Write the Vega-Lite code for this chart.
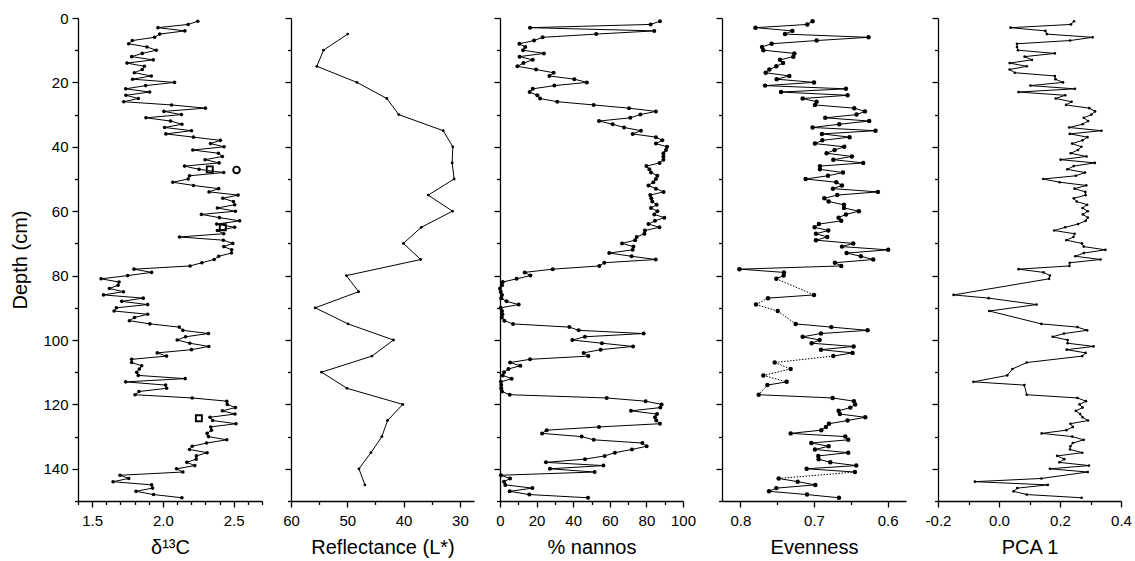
{
"$schema": "https://vega.github.io/schema/vega-lite/v6.json",
"background": "white",
"padding": {"left": 10, "top": 11, "right": 5, "bottom": 5},
"spacing": 19,
"config": {
  "view": {"stroke": null},
  "font": "Liberation Sans",
  "axis": {"grid": false, "domainColor": "black", "domainWidth": 1.3, "tickColor": "black", "tickWidth": 1.3, "labelColor": "black", "labelFontSize": 15, "labelFlush": false, "labelOverlap": false, "titleColor": "black", "titleFontSize": 20, "titleFontWeight": "normal"},
  "axisX": {"labelPadding": 6, "titlePadding": 9},
  "axisY": {"labelPadding": 4, "titlePadding": 12}
},
"datasets": {
"d13c": [{"d":1,"v":2.246},{"d":2,"v":2.178},{"d":3,"v":1.965},{"d":4,"v":2.155},{"d":5,"v":1.977},{"d":6,"v":1.941},{"d":7,"v":1.784},{"d":8,"v":1.758},{"d":9,"v":1.887},{"d":10,"v":1.953},{"d":11,"v":1.854},{"d":12,"v":1.779},{"d":13,"v":1.932},{"d":14,"v":1.746},{"d":15,"v":1.869},{"d":16,"v":1.854},{"d":17,"v":1.798},{"d":18,"v":1.918},{"d":19,"v":1.786},{"d":20,"v":2.082},{"d":21,"v":1.878},{"d":22,"v":1.737},{"d":23,"v":1.906},{"d":24,"v":1.739},{"d":25,"v":1.826},{"d":26,"v":1.723},{"d":27,"v":2.061},{"d":28,"v":2.3},{"d":29,"v":2.007},{"d":30,"v":2.131},{"d":31,"v":1.88},{"d":32,"v":2.054},{"d":33,"v":2.134},{"d":34,"v":2.012},{"d":35,"v":2.202},{"d":36,"v":2.021},{"d":37,"v":2.216},{"d":38,"v":2.406},{"d":39,"v":2.336},{"d":40,"v":2.432},{"d":41,"v":2.211},{"d":42,"v":2.392},{"d":43,"v":2.42},{"d":44,"v":2.298},{"d":45,"v":2.397},{"d":46,"v":2.153},{"d":47,"v":2.256},{"d":48,"v":2.43},{"d":49,"v":2.188},{"d":50,"v":2.178},{"d":51,"v":2.07},{"d":52,"v":2.216},{"d":53,"v":2.394},{"d":54,"v":2.326},{"d":55,"v":2.531},{"d":56,"v":2.423},{"d":57,"v":2.498},{"d":58,"v":2.507},{"d":59,"v":2.385},{"d":60,"v":2.512},{"d":61,"v":2.272},{"d":62,"v":2.399},{"d":63,"v":2.542},{"d":64,"v":2.38},{"d":65,"v":2.507},{"d":66,"v":2.385},{"d":67,"v":2.43},{"d":68,"v":2.117},{"d":69,"v":2.427},{"d":70,"v":2.493},{"d":71,"v":2.43},{"d":72,"v":2.486},{"d":73,"v":2.484},{"d":74,"v":2.394},{"d":75,"v":2.362},{"d":76,"v":2.275},{"d":77,"v":2.192},{"d":78,"v":1.796},{"d":79,"v":1.92},{"d":80,"v":1.751},{"d":81,"v":1.563},{"d":82,"v":1.69},{"d":83,"v":1.683},{"d":84,"v":1.622},{"d":85,"v":1.721},{"d":86,"v":1.58},{"d":87,"v":1.861},{"d":88,"v":1.709},{"d":89,"v":1.892},{"d":90,"v":1.671},{"d":91,"v":1.655},{"d":92,"v":1.892},{"d":93,"v":1.8},{"d":94,"v":1.763},{"d":95,"v":1.908},{"d":96,"v":2.115},{"d":97,"v":2.141},{"d":98,"v":2.322},{"d":99,"v":2.16},{"d":100,"v":2.101},{"d":101,"v":2.19},{"d":102,"v":2.324},{"d":103,"v":2.202},{"d":104,"v":1.96},{"d":105,"v":2.026},{"d":106,"v":1.779},{"d":107,"v":1.779},{"d":108,"v":1.85},{"d":109,"v":1.833},{"d":110,"v":1.815},{"d":111,"v":1.826},{"d":112,"v":2.157},{"d":113,"v":1.737},{"d":114,"v":2.019},{"d":115,"v":2.026},{"d":116,"v":1.831},{"d":117,"v":1.803},{"d":118,"v":2.207},{"d":119,"v":2.451},{"d":120,"v":2.455},{"d":121,"v":2.512},{"d":122,"v":2.42},{"d":123,"v":2.509},{"d":124,"v":2.333},{"d":125,"v":2.352},{"d":126,"v":2.516},{"d":127,"v":2.338},{"d":128,"v":2.343},{"d":129,"v":2.312},{"d":130,"v":2.322},{"d":131,"v":2.451},{"d":132,"v":2.308},{"d":133,"v":2.207},{"d":134,"v":2.188},{"d":135,"v":2.312},{"d":136,"v":2.237},{"d":137,"v":2.235},{"d":138,"v":2.169},{"d":139,"v":2.225},{"d":140,"v":2.096},{"d":141,"v":2.141},{"d":142,"v":1.697},{"d":143,"v":1.758},{"d":144,"v":1.648},{"d":145,"v":1.92},{"d":146,"v":1.927},{"d":147,"v":1.81},{"d":148,"v":1.934},{"d":149,"v":2.134}],
"markers": [{"d":47,"v":2.331,"s":"square"},{"d":65,"v":2.423,"s":"square"},{"d":124.3,"v":2.254,"s":"square"},{"d":47.2,"v":2.52,"s":"circle"}],
"refl": [{"d":5,"v":49.93},{"d":10,"v":54.23},{"d":15,"v":55.41},{"d":20,"v":48.28},{"d":25,"v":42.98},{"d":30,"v":40.86},{"d":35,"v":32.97},{"d":40,"v":31.26},{"d":45,"v":31.38},{"d":50,"v":31.03},{"d":55,"v":35.62},{"d":60,"v":31.32},{"d":65,"v":36.86},{"d":70,"v":40.04},{"d":75,"v":36.97},{"d":80,"v":50.16},{"d":85,"v":47.99},{"d":90,"v":55.7},{"d":95,"v":49.87},{"d":100,"v":41.8},{"d":105,"v":45.63},{"d":110,"v":54.58},{"d":115,"v":50.05},{"d":120,"v":40.15},{"d":125,"v":42.86},{"d":130,"v":43.86},{"d":135,"v":45.81},{"d":140,"v":47.93},{"d":145,"v":46.87}],
"nannos": [{"d":1,"v":87.4},{"d":2,"v":82.3},{"d":3,"v":16.4},{"d":4,"v":84.3},{"d":5,"v":52.6},{"d":6,"v":23.3},{"d":7,"v":18.6},{"d":8,"v":10.6},{"d":9,"v":13.8},{"d":10,"v":12.6},{"d":11,"v":24},{"d":12,"v":10.7},{"d":13,"v":17.9},{"d":14,"v":12.8},{"d":15,"v":9.5},{"d":16,"v":19.7},{"d":17,"v":29.3},{"d":18,"v":27},{"d":19,"v":40.6},{"d":20,"v":47.5},{"d":21,"v":29.7},{"d":22,"v":17.9},{"d":23,"v":16.2},{"d":24,"v":20.4},{"d":25,"v":21.9},{"d":26,"v":31.3},{"d":27,"v":51.2},{"d":28,"v":70.5},{"d":29,"v":85.2},{"d":30,"v":76.7},{"d":31,"v":71.2},{"d":32,"v":54.1},{"d":33,"v":61.6},{"d":34,"v":67.8},{"d":35,"v":77},{"d":36,"v":72.5},{"d":37,"v":85.2},{"d":38,"v":88.7},{"d":39,"v":85.2},{"d":40,"v":91.3},{"d":41,"v":90.7},{"d":42,"v":89.3},{"d":43,"v":89.3},{"d":44,"v":89.3},{"d":45,"v":87.2},{"d":46,"v":80},{"d":47,"v":81.6},{"d":48,"v":82.5},{"d":49,"v":86},{"d":50,"v":85.2},{"d":51,"v":83.8},{"d":52,"v":81.1},{"d":53,"v":85.2},{"d":54,"v":89.4},{"d":55,"v":82.1},{"d":56,"v":82.7},{"d":57,"v":83.2},{"d":58,"v":85.6},{"d":59,"v":82.5},{"d":60,"v":86},{"d":61,"v":84.3},{"d":62,"v":89.8},{"d":63,"v":84.7},{"d":64,"v":81.1},{"d":65,"v":87.1},{"d":66,"v":79.2},{"d":67,"v":78.9},{"d":68,"v":74.7},{"d":69,"v":73.8},{"d":70,"v":66.7},{"d":71,"v":72.9},{"d":72,"v":72.5},{"d":73,"v":59.7},{"d":74,"v":71.9},{"d":75,"v":85.1},{"d":76,"v":57},{"d":77,"v":54.3},{"d":78,"v":28.8},{"d":79,"v":13.5},{"d":80,"v":16.6},{"d":81,"v":9.1},{"d":82,"v":1.5},{"d":83,"v":1.1},{"d":84,"v":0},{"d":85,"v":0.4},{"d":86,"v":1.1},{"d":87,"v":0.7},{"d":88,"v":3.6},{"d":89,"v":10.2},{"d":90,"v":0.4},{"d":91,"v":1.1},{"d":92,"v":1.3},{"d":93,"v":1},{"d":94,"v":2.4},{"d":95,"v":7.1},{"d":96,"v":37.9},{"d":97,"v":43},{"d":98,"v":78.5},{"d":99,"v":46.4},{"d":100,"v":39.5},{"d":101,"v":55.7},{"d":102,"v":72.7},{"d":103,"v":55},{"d":104,"v":45.7},{"d":105,"v":48.3},{"d":106,"v":16.4},{"d":107,"v":5.5},{"d":108,"v":11.1},{"d":109,"v":4.6},{"d":110,"v":2.2},{"d":111,"v":1.5},{"d":112,"v":6.4},{"d":113,"v":0.5},{"d":114,"v":0.7},{"d":115,"v":0.7},{"d":116,"v":1.1},{"d":117,"v":5.3},{"d":118,"v":58.3},{"d":119,"v":79.6},{"d":120,"v":88.3},{"d":121,"v":87.6},{"d":122,"v":71.6},{"d":123,"v":85.8},{"d":124,"v":84.7},{"d":125,"v":85.4},{"d":126,"v":87.4},{"d":127,"v":54.1},{"d":128,"v":25.5},{"d":129,"v":23},{"d":130,"v":44.6},{"d":131,"v":51.2},{"d":132,"v":77.8},{"d":133,"v":80.1},{"d":134,"v":72.1},{"d":135,"v":62.8},{"d":136,"v":57.2},{"d":137,"v":46.4},{"d":138,"v":25.1},{"d":139,"v":56.5},{"d":140,"v":27.3},{"d":141,"v":51.7},{"d":142,"v":0.5},{"d":143,"v":5.5},{"d":144,"v":2.2},{"d":145,"v":2.9},{"d":146,"v":17.7},{"d":147,"v":5.3},{"d":148,"v":16},{"d":149,"v":48.1}],
"even": [{"d":1,"v":0.7019,"dot":false},{"d":2,"v":0.7091,"dot":false},{"d":3,"v":0.7796,"dot":false},{"d":4,"v":0.7294,"dot":false},{"d":5,"v":0.7394,"dot":false},{"d":6,"v":0.6259,"dot":false},{"d":7,"v":0.6964,"dot":false},{"d":8,"v":0.7575,"dot":false},{"d":9,"v":0.7706,"dot":false},{"d":10,"v":0.7688,"dot":false},{"d":11,"v":0.7267,"dot":false},{"d":12,"v":0.7281,"dot":false},{"d":13,"v":0.7462,"dot":false},{"d":14,"v":0.7421,"dot":false},{"d":15,"v":0.7512,"dot":false},{"d":16,"v":0.7607,"dot":false},{"d":17,"v":0.7656,"dot":false},{"d":18,"v":0.7335,"dot":false},{"d":19,"v":0.7507,"dot":false},{"d":20,"v":0.7,"dot":false},{"d":21,"v":0.7665,"dot":false},{"d":22,"v":0.6566,"dot":false},{"d":23,"v":0.7448,"dot":false},{"d":24,"v":0.6544,"dot":false},{"d":25,"v":0.7154,"dot":false},{"d":26,"v":0.6964,"dot":false},{"d":27,"v":0.6987,"dot":false},{"d":28,"v":0.6453,"dot":false},{"d":29,"v":0.6308,"dot":false},{"d":30,"v":0.6422,"dot":false},{"d":31,"v":0.6847,"dot":false},{"d":32,"v":0.625,"dot":false},{"d":33,"v":0.6657,"dot":false},{"d":34,"v":0.7019,"dot":false},{"d":35,"v":0.6164,"dot":false},{"d":36,"v":0.6892,"dot":false},{"d":37,"v":0.6517,"dot":false},{"d":38,"v":0.6887,"dot":false},{"d":39,"v":0.6987,"dot":false},{"d":40,"v":0.6589,"dot":false},{"d":41,"v":0.672,"dot":false},{"d":42,"v":0.6829,"dot":false},{"d":43,"v":0.6485,"dot":false},{"d":44,"v":0.6738,"dot":false},{"d":45,"v":0.6331,"dot":false},{"d":46,"v":0.6919,"dot":false},{"d":47,"v":0.6919,"dot":false},{"d":48,"v":0.6607,"dot":false},{"d":49,"v":0.681,"dot":false},{"d":50,"v":0.7114,"dot":false},{"d":51,"v":0.6697,"dot":false},{"d":52,"v":0.662,"dot":false},{"d":53,"v":0.6743,"dot":false},{"d":54,"v":0.6132,"dot":false},{"d":55,"v":0.6684,"dot":false},{"d":56,"v":0.686,"dot":false},{"d":57,"v":0.6801,"dot":false},{"d":58,"v":0.6593,"dot":false},{"d":59,"v":0.6593,"dot":false},{"d":60,"v":0.639,"dot":false},{"d":61,"v":0.6566,"dot":false},{"d":62,"v":0.6666,"dot":false},{"d":63,"v":0.663,"dot":false},{"d":64,"v":0.6933,"dot":false},{"d":65,"v":0.6991,"dot":false},{"d":66,"v":0.6806,"dot":false},{"d":67,"v":0.6973,"dot":false},{"d":68,"v":0.682,"dot":false},{"d":69,"v":0.6973,"dot":false},{"d":70,"v":0.6467,"dot":false},{"d":71,"v":0.662,"dot":false},{"d":72,"v":0.5992,"dot":false},{"d":73,"v":0.6557,"dot":false},{"d":74,"v":0.6363,"dot":false},{"d":75,"v":0.6195,"dot":false},{"d":76,"v":0.6716,"dot":false},{"d":77,"v":0.663,"dot":false},{"d":78,"v":0.8014,"dot":false},{"d":79,"v":0.7408,"dot":false},{"d":80,"v":0.7412,"dot":false},{"d":81,"v":0.7512,"dot":true},{"d":86,"v":0.7,"dot":false},{"d":87,"v":0.7625,"dot":true},{"d":89,"v":0.7787,"dot":true},{"d":91,"v":0.7493,"dot":true},{"d":95,"v":0.7249,"dot":false},{"d":96,"v":0.6765,"dot":false},{"d":97,"v":0.6272,"dot":false},{"d":98,"v":0.6905,"dot":false},{"d":99,"v":0.7154,"dot":false},{"d":100,"v":0.6924,"dot":false},{"d":101,"v":0.7032,"dot":false},{"d":102,"v":0.6462,"dot":false},{"d":103,"v":0.6905,"dot":false},{"d":104,"v":0.6476,"dot":false},{"d":105,"v":0.6738,"dot":true},{"d":107,"v":0.7534,"dot":true},{"d":109,"v":0.7317,"dot":true},{"d":111,"v":0.7688,"dot":true},{"d":113,"v":0.7371,"dot":false},{"d":114,"v":0.7634,"dot":true},{"d":117,"v":0.7751,"dot":false},{"d":118,"v":0.6747,"dot":false},{"d":119,"v":0.6458,"dot":false},{"d":120,"v":0.644,"dot":false},{"d":121,"v":0.6507,"dot":false},{"d":122,"v":0.6666,"dot":false},{"d":123,"v":0.6648,"dot":false},{"d":124,"v":0.6304,"dot":false},{"d":125,"v":0.6544,"dot":false},{"d":126,"v":0.6797,"dot":false},{"d":127,"v":0.6838,"dot":false},{"d":128,"v":0.6901,"dot":false},{"d":129,"v":0.7317,"dot":false},{"d":130,"v":0.6575,"dot":false},{"d":131,"v":0.6535,"dot":false},{"d":132,"v":0.7037,"dot":false},{"d":133,"v":0.6801,"dot":false},{"d":134,"v":0.6987,"dot":false},{"d":135,"v":0.6535,"dot":false},{"d":136,"v":0.6942,"dot":false},{"d":137,"v":0.6937,"dot":false},{"d":138,"v":0.6779,"dot":false},{"d":139,"v":0.6426,"dot":false},{"d":140,"v":0.71,"dot":false},{"d":141,"v":0.6444,"dot":true},{"d":143,"v":0.748,"dot":false},{"d":144,"v":0.7222,"dot":false},{"d":145,"v":0.6982,"dot":false},{"d":146,"v":0.7512,"dot":false},{"d":147,"v":0.7611,"dot":false},{"d":148,"v":0.7095,"dot":false},{"d":149,"v":0.6661,"dot":false}],
"pca": [{"d":1,"v":0.246},{"d":2,"v":0.236},{"d":3,"v":0.038},{"d":4,"v":0.152},{"d":5,"v":0.157},{"d":6,"v":0.307},{"d":7,"v":0.233},{"d":8,"v":0.059},{"d":9,"v":0.059},{"d":10,"v":0.062},{"d":11,"v":0.183},{"d":12,"v":0.084},{"d":13,"v":0.108},{"d":14,"v":0.035},{"d":15,"v":0.091},{"d":16,"v":0.035},{"d":17,"v":0.052},{"d":18,"v":0.183},{"d":19,"v":0.185},{"d":20,"v":0.21},{"d":21,"v":0.103},{"d":22,"v":0.249},{"d":23,"v":0.064},{"d":24,"v":0.217},{"d":25,"v":0.186},{"d":26,"v":0.238},{"d":27,"v":0.22},{"d":28,"v":0.296},{"d":29,"v":0.315},{"d":30,"v":0.303},{"d":31,"v":0.278},{"d":32,"v":0.292},{"d":33,"v":0.274},{"d":34,"v":0.23},{"d":35,"v":0.336},{"d":36,"v":0.232},{"d":37,"v":0.29},{"d":38,"v":0.274},{"d":39,"v":0.24},{"d":40,"v":0.27},{"d":41,"v":0.259},{"d":42,"v":0.235},{"d":43,"v":0.287},{"d":44,"v":0.202},{"d":45,"v":0.314},{"d":46,"v":0.245},{"d":47,"v":0.224},{"d":48,"v":0.282},{"d":49,"v":0.252},{"d":50,"v":0.145},{"d":51,"v":0.199},{"d":52,"v":0.286},{"d":53,"v":0.248},{"d":54,"v":0.283},{"d":55,"v":0.284},{"d":56,"v":0.245},{"d":57,"v":0.255},{"d":58,"v":0.289},{"d":59,"v":0.274},{"d":60,"v":0.291},{"d":61,"v":0.275},{"d":62,"v":0.291},{"d":63,"v":0.284},{"d":64,"v":0.259},{"d":65,"v":0.217},{"d":66,"v":0.181},{"d":67,"v":0.248},{"d":68,"v":0.244},{"d":69,"v":0.221},{"d":70,"v":0.272},{"d":71,"v":0.278},{"d":72,"v":0.349},{"d":73,"v":0.278},{"d":74,"v":0.25},{"d":75,"v":0.333},{"d":76,"v":0.232},{"d":77,"v":0.231},{"d":78,"v":0.064},{"d":79,"v":0.146},{"d":80,"v":0.167},{"d":81,"v":0.164},{"d":86,"v":-0.149},{"d":87,"v":-0.034},{"d":89,"v":0.123},{"d":91,"v":-0.032},{"d":95,"v":0.139},{"d":96,"v":0.257},{"d":97,"v":0.289},{"d":98,"v":0.213},{"d":99,"v":0.176},{"d":100,"v":0.225},{"d":101,"v":0.225},{"d":102,"v":0.31},{"d":103,"v":0.222},{"d":104,"v":0.284},{"d":105,"v":0.273},{"d":107,"v":0.091},{"d":109,"v":0.044},{"d":111,"v":0.027},{"d":113,"v":-0.084},{"d":114,"v":0.083},{"d":117,"v":0.091},{"d":118,"v":0.257},{"d":119,"v":0.285},{"d":120,"v":0.264},{"d":121,"v":0.274},{"d":122,"v":0.252},{"d":123,"v":0.266},{"d":124,"v":0.274},{"d":125,"v":0.292},{"d":126,"v":0.234},{"d":127,"v":0.242},{"d":128,"v":0.221},{"d":129,"v":0.14},{"d":130,"v":0.24},{"d":131,"v":0.278},{"d":132,"v":0.242},{"d":133,"v":0.234},{"d":134,"v":0.233},{"d":135,"v":0.273},{"d":136,"v":0.191},{"d":137,"v":0.214},{"d":138,"v":0.198},{"d":139,"v":0.295},{"d":140,"v":0.167},{"d":141,"v":0.291},{"d":143,"v":0.139},{"d":144,"v":-0.079},{"d":145,"v":0.16},{"d":146,"v":0.06},{"d":147,"v":0.048},{"d":148,"v":0.091},{"d":149,"v":0.271}]
},
"hconcat": [
{
  "width": 184, "height": 483,
  "encoding": {
    "x": {"field": "v", "type": "quantitative", "scale": {"domain": [1.4, 2.7], "nice": false, "zero": false},
      "axis": {"title": "δ¹³C", "values": [1.4,1.5,1.6,1.7,1.8,1.9,2.0,2.1,2.2,2.3,2.4,2.5,2.6,2.7],
        "labelExpr": "abs(datum.value*2 - round(datum.value*2)) < 0.001 ? format(datum.value, '.1f') : ''",
        "tickSize": {"condition": {"test": "abs(datum.value*2 - round(datum.value*2)) < 0.001", "value": 6}, "value": 3.5}}},
    "y": {"field": "d", "type": "quantitative", "scale": {"domain": [0, 150], "reverse": true, "nice": false, "zero": false},
      "axis": {"title": "Depth (cm)", "values": [0,10,20,30,40,50,60,70,80,90,100,110,120,130,140,150],
        "labelExpr": "datum.value % 20 === 0 && datum.value < 150 ? datum.label : ''",
        "tickSize": {"condition": {"test": "datum.value % 20 === 0", "value": 6}, "value": 3.5}}}
  },
  "layer": [
    {"data": {"name": "d13c"}, "mark": {"type": "line", "color": "black", "strokeWidth": 1}, "encoding": {"order": {"field": "d", "type": "quantitative"}}},
    {"data": {"name": "d13c"}, "mark": {"type": "circle", "color": "black", "size": 13, "opacity": 1}},
    {"data": {"name": "markers"}, "mark": {"type": "point", "filled": false, "stroke": "black", "strokeWidth": 1.9, "opacity": 1},
      "encoding": {"shape": {"field": "s", "type": "nominal", "scale": {"domain": ["square", "circle"], "range": ["square", "circle"]}, "legend": null},
        "size": {"field": "s", "type": "nominal", "scale": {"domain": ["square", "circle"], "range": [36, 44]}, "legend": null}}}
  ]
},
{
  "width": 183, "height": 483,
  "encoding": {
    "x": {"field": "v", "type": "quantitative", "scale": {"domain": [60, 27.5], "nice": false, "zero": false},
      "axis": {"title": "Reflectance (L*)", "values": [60,55,50,45,40,35,30],
        "labelExpr": "datum.value % 10 === 0 ? datum.label : ''",
        "tickSize": {"condition": {"test": "datum.value % 10 === 0", "value": 6}, "value": 3.5}}},
    "y": {"field": "d", "type": "quantitative", "scale": {"domain": [0, 150], "reverse": true, "nice": false, "zero": false},
      "axis": {"title": null, "labels": false, "values": [0,10,20,30,40,50,60,70,80,90,100,110,120,130,140,150],
        "tickSize": {"condition": {"test": "datum.value % 20 === 0", "value": 6}, "value": 3.5}}}
  },
  "layer": [
    {"data": {"name": "refl"}, "mark": {"type": "line", "color": "black", "strokeWidth": 1}, "encoding": {"order": {"field": "d", "type": "quantitative"}}},
    {"data": {"name": "refl"}, "mark": {"type": "circle", "color": "black", "size": 8, "opacity": 1}}
  ]
},
{
  "width": 183, "height": 483,
  "encoding": {
    "x": {"field": "v", "type": "quantitative", "scale": {"domain": [0, 100], "nice": false},
      "axis": {"title": "% nannos", "values": [0,10,20,30,40,50,60,70,80,90,100],
        "labelExpr": "datum.value % 20 === 0 ? datum.label : ''",
        "tickSize": {"condition": {"test": "datum.value % 20 === 0", "value": 6}, "value": 3.5}}},
    "y": {"field": "d", "type": "quantitative", "scale": {"domain": [0, 150], "reverse": true, "nice": false, "zero": false},
      "axis": {"title": null, "labels": false, "values": [0,10,20,30,40,50,60,70,80,90,100,110,120,130,140,150],
        "tickSize": {"condition": {"test": "datum.value % 20 === 0", "value": 6}, "value": 3.5}}}
  },
  "layer": [
    {"data": {"name": "nannos"}, "mark": {"type": "line", "color": "black", "strokeWidth": 1}, "encoding": {"order": {"field": "d", "type": "quantitative"}}},
    {"data": {"name": "nannos"}, "mark": {"type": "circle", "color": "black", "size": 16, "opacity": 1}}
  ]
},
{
  "width": 184, "height": 483,
  "encoding": {
    "x": {"field": "v", "type": "quantitative", "scale": {"domain": [0.825, 0.575], "nice": false, "zero": false},
      "axis": {"title": "Evenness", "values": [0.8,0.75,0.7,0.65,0.6],
        "labelExpr": "abs(datum.value*10 - round(datum.value*10)) < 0.001 ? format(datum.value, '.1f') : ''",
        "tickSize": {"condition": {"test": "abs(datum.value*10 - round(datum.value*10)) < 0.001", "value": 6}, "value": 3.5}}},
    "y": {"field": "d", "type": "quantitative", "scale": {"domain": [0, 150], "reverse": true, "nice": false, "zero": false},
      "axis": {"title": null, "labels": false, "values": [0,10,20,30,40,50,60,70,80,90,100,110,120,130,140,150],
        "tickSize": {"condition": {"test": "datum.value % 20 === 0", "value": 6}, "value": 3.5}}}
  },
  "layer": [
    {"data": {"name": "even"},
      "transform": [{"window": [{"op": "lead", "field": "v", "as": "v2"}, {"op": "lead", "field": "d", "as": "d2"}], "sort": [{"field": "d"}]}, {"filter": "isValid(datum.d2) && !datum.dot"}],
      "mark": {"type": "rule", "color": "black", "strokeWidth": 1},
      "encoding": {"x2": {"field": "v2"}, "y2": {"field": "d2"}}},
    {"data": {"name": "even"},
      "transform": [{"window": [{"op": "lead", "field": "v", "as": "v2"}, {"op": "lead", "field": "d", "as": "d2"}], "sort": [{"field": "d"}]}, {"filter": "isValid(datum.d2) && datum.dot"}],
      "mark": {"type": "rule", "color": "black", "strokeWidth": 1, "strokeDash": [1.5, 1.5]},
      "encoding": {"x2": {"field": "v2"}, "y2": {"field": "d2"}}},
    {"data": {"name": "even"}, "mark": {"type": "circle", "color": "black", "size": 20, "opacity": 1}}
  ]
},
{
  "width": 183, "height": 483,
  "encoding": {
    "x": {"field": "v", "type": "quantitative", "scale": {"domain": [-0.2, 0.4], "nice": false, "zero": false},
      "axis": {"title": "PCA 1", "values": [-0.2,-0.1,0,0.1,0.2,0.3,0.4],
        "labelExpr": "abs(datum.value*5 - round(datum.value*5)) < 0.001 ? replace(format(datum.value, '.1f'), '\u2212', '-') : ''",
        "tickSize": {"condition": {"test": "abs(datum.value*5 - round(datum.value*5)) < 0.001", "value": 6}, "value": 3.5}}},
    "y": {"field": "d", "type": "quantitative", "scale": {"domain": [0, 150], "reverse": true, "nice": false, "zero": false},
      "axis": {"title": null, "labels": false, "values": [0,10,20,30,40,50,60,70,80,90,100,110,120,130,140,150],
        "tickSize": {"condition": {"test": "datum.value % 20 === 0", "value": 6}, "value": 3.5}}}
  },
  "layer": [
    {"data": {"name": "pca"}, "mark": {"type": "line", "color": "black", "strokeWidth": 1}, "encoding": {"order": {"field": "d", "type": "quantitative"}}},
    {"data": {"name": "pca"}, "mark": {"type": "circle", "color": "black", "size": 7, "opacity": 1}}
  ]
}
]
}
